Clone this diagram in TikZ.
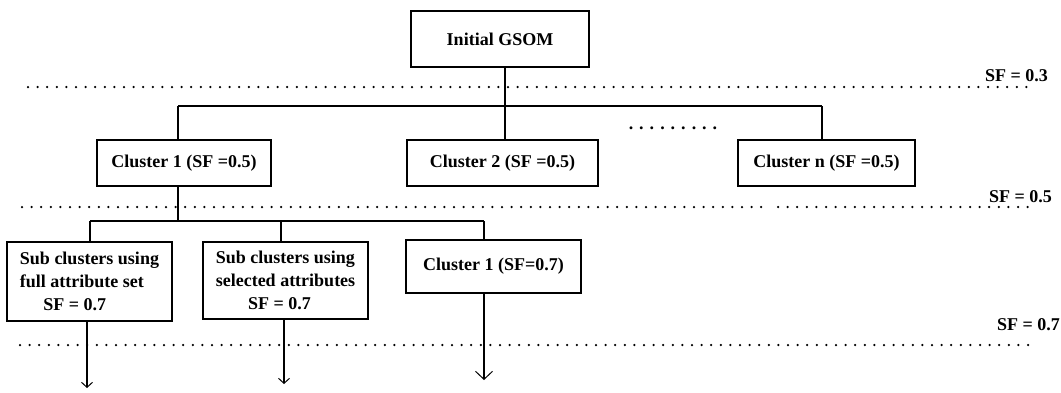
\documentclass[tikz,border=0pt]{standalone}
\usepackage{fontspec}
\setmainfont{Liberation Serif}
\usetikzlibrary{arrows.meta}
\begin{document}
\begin{tikzpicture}[x=1pt,y=-1pt,
  box/.style={draw,line width=1.3pt,inner sep=0pt,font=\fontsize{18}{23}\selectfont\bfseries},
  lbl/.style={inner sep=0pt,font=\fontsize{18}{22}\selectfont\bfseries},
  link/.style={line width=1.2pt},
  level/.style={line width=2.5pt,line cap=round,dash pattern=on 0pt off 9.6pt},
  down/.style={line width=1.2pt,-{Straight Barb[length=5pt,width=11pt,line width=1pt]}},
  downwide/.style={line width=1.2pt,-{Straight Barb[length=8pt,width=17pt,line width=1pt]}}]
\useasboundingbox (0,0) rectangle (1061,392);

% tree nodes
\node[box,minimum width=178,minimum height=56] (init) at (500,39) {Initial GSOM};
\node[box,minimum width=174,minimum height=46] (c1) at (184,163) {Cluster 1 (SF =0.5)};
\node[box,minimum width=191,minimum height=46] (c2) at (502.5,163) {Cluster 2 (SF =0.5)};
\node[box,minimum width=177,minimum height=46] (cn) at (826.5,163) {Cluster n (SF =0.5)};
\node[lbl] (more) at (673,128) {. . . . . . . . .};
\node[box,minimum width=165,minimum height=79,align=left] (sa) at (89.5,281.5)
  {Sub clusters using\\ full attribute set\\ \hspace*{1.3em}SF = 0.7};
\node[box,minimum width=165,minimum height=77,align=left] (sb) at (285.5,280.5)
  {Sub clusters using\\ selected attributes\\ \hspace*{1.8em}SF = 0.7};
\node[box,minimum width=175,minimum height=53] (sc) at (493.5,266.5) {Cluster 1 (SF=0.7)};

% level labels
\node[lbl,anchor=east] (sf3) at (1048,76) {SF = 0.3};
\node[lbl,anchor=east] (sf5) at (1052,197) {SF = 0.5};
\node[lbl,anchor=east] (sf7) at (1060,325) {SF = 0.7};

% level separators
\coordinate (l3a) at (28,87);   \coordinate (l3b) at (1032,87);
\coordinate (l5a) at (22,207);  \coordinate (l5m) at (765,207);
\coordinate (l5n) at (778,207); \coordinate (l5b) at (1030,207);
\coordinate (l7a) at (20,345);  \coordinate (l7b) at (1035,345);
\draw[level] (l3a) -- (l3b);
\draw[level] (l5a) -- (l5m);
\draw[level] (l5n) -- (l5b);
\draw[level] (l7a) -- (l7b);

% first branching
\coordinate (b1L) at (178,106); \coordinate (b1M) at (505,106); \coordinate (b1R) at (822,106);
\draw[link] (b1L) -- (b1R);
\draw[link] (init.south -| b1M) -- (b1M);
\draw[link] (b1L) -- (c1.north -| b1L);
\draw[link] (b1M) -- (c2.north -| b1M);
\draw[link] (b1R) -- (cn.north -| b1R);

% second branching
\coordinate (b2L) at (90,221); \coordinate (b2M) at (281,221); \coordinate (b2R) at (484,221);
\draw[link] (c1.south -| b1L) -- (b1L |- b2L);
\draw[link] (b2L) -- (b2R);
\draw[link] (b2L) -- (sa.north -| b2L);
\draw[link] (b2M) -- (sb.north -| b2M);
\draw[link] (b2R) -- (sc.north -| b2R);

% continuation arrows
\coordinate (ea) at (87,388); \coordinate (eb) at (284,384); \coordinate (ec) at (484,380);
\draw[down] (sa.south -| ea) -- (ea);
\draw[down] (sb.south -| eb) -- (eb);
\draw[downwide] (sc.south -| ec) -- (ec);
\end{tikzpicture}
\end{document}
